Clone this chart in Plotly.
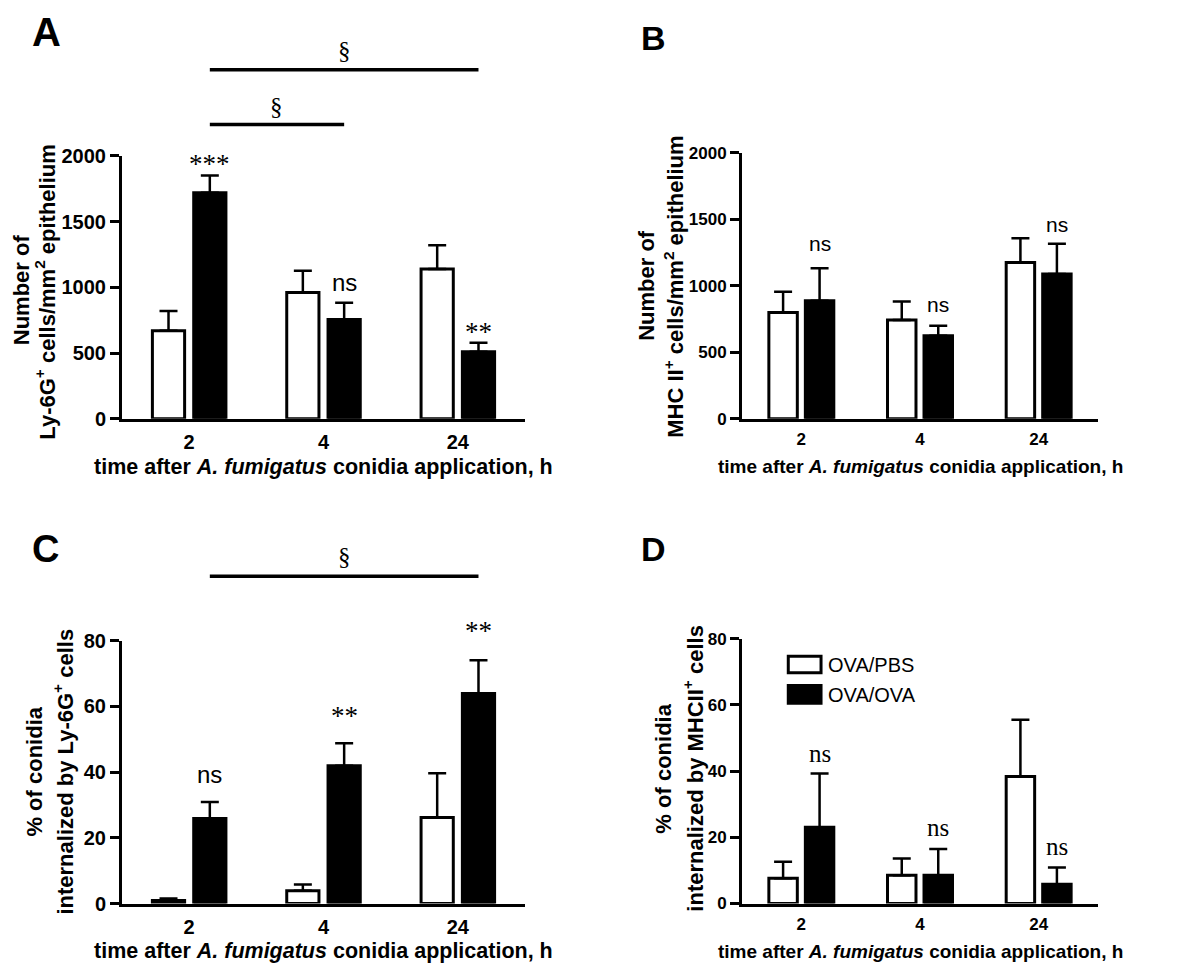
import plotly.graph_objects as go

# ---------------- data ----------------
times = ["2", "4", "24"]
groups = ["OVA/PBS", "OVA/OVA"]

a_pbs = [670, 960, 1140]
a_pbs_sem = [150, 165, 180]
a_ova = [1720, 755, 510]
a_ova_sem = [130, 127, 68]

b_pbs = [800, 742, 1176]
b_pbs_sem = [155, 140, 182]
b_ova = [888, 625, 1088]
b_ova_sem = [244, 74, 228]

c_pbs = [0.9, 3.9, 26.2]
c_pbs_sem = [0.6, 1.9, 13.4]
c_ova = [25.9, 41.9, 63.9]
c_ova_sem = [5.0, 6.9, 10.1]

d_pbs = [7.6, 8.5, 38.4]
d_pbs_sem = [5.0, 5.1, 17.1]
d_ova = [23.0, 8.5, 5.8]
d_ova_sem = [16.3, 8.0, 5.1]

# significance labels: (text, group index, y value) placed over OVA/OVA bars
a_marks = [("***", 0, 1985), ("ns", 1, 1019), ("**", 2, 706)]
b_marks = [("ns", 0, 1301), ("ns", 1, 846), ("ns", 2, 1449)]
c_marks = [("ns", 0, 38.7), ("**", 1, 58.9), ("**", 2, 84.8)]
d_marks = [("ns", 0, 45.2), ("ns", 1, 23.0), ("ns", 2, 17.1)]

# brackets: (from group, to group, line y, symbol y)
a_brackets = [(0, 2, 2654, 2803), (0, 1, 2238, 2379)]
c_brackets = [(0, 2, 99.6, 105.6)]

# ---------------- layout constants ----------------
W, H = 1200, 972
OX, OY = 8, 8          # page offset of the plot div (body margin)
BARGAP = 0.385
OFF = (1 - BARGAP) / 4  # offset of each bar's centre from group centre
FONT = "Liberation Sans, Arial, sans-serif"
SERIF = "Liberation Serif, Times New Roman, serif"


def px2x(px):
    return (px - OX) / W


def py2y(py):
    return 1 - (py - OY) / H


panels = {
    "A": dict(px=(122, 525), py=(148, 417), ymax=2000, step=500,
              tfs=20, xfs=21.5, rfs=22, nsfs=24,
              pbs=a_pbs, pbs_sem=a_pbs_sem, ova=a_ova, ova_sem=a_ova_sem,
              marks=a_marks, brackets=a_brackets, serif_ns=False,
              ytitle=["Number of",
                      "Ly-6G<sup>+</sup> cells/mm<sup>2</sup> epithelium"],
              ytx=(21.5, 45), yty=(285, 287), letter=(46, 21), lfs=40),
    "B": dict(px=(742, 1098), py=(145, 417), ymax=2000, step=500,
              tfs=17, xfs=19, rfs=22, nsfs=21,
              pbs=b_pbs, pbs_sem=b_pbs_sem, ova=b_ova, ova_sem=b_ova_sem,
              marks=b_marks, brackets=[], serif_ns=False,
              ytitle=["Number of",
                      "MHC II<sup>+</sup> cells/mm<sup>2</sup> epithelium"],
              ytx=(647, 674), yty=(281, 282), letter=(653, 27), lfs=34),
    "C": dict(px=(122, 525), py=(644, 913), ymax=80, step=20,
              tfs=20, xfs=21.5, rfs=22, nsfs=24,
              pbs=c_pbs, pbs_sem=c_pbs_sem, ova=c_ova, ova_sem=c_ova_sem,
              marks=c_marks, brackets=c_brackets, serif_ns=False,
              ytitle=["% of conidia",
                      "internalized by Ly-6G<sup>+</sup> cells"],
              ytx=(35, 63), yty=(778, 778), letter=(45, 550), lfs=38),
    "D": dict(px=(742, 1098), py=(642, 913), ymax=80, step=20,
              tfs=17, xfs=19, rfs=22, nsfs=25,
              pbs=d_pbs, pbs_sem=d_pbs_sem, ova=d_ova, ova_sem=d_ova_sem,
              marks=d_marks, brackets=[], serif_ns=True,
              ytitle=["% of conidia",
                      "internalized by MHCII<sup>+</sup> cells"],
              ytx=(664, 693), yty=(775, 775), letter=(653, 550), lfs=34),
}

fig = go.Figure()
shapes = []
annotations = []
layout_axes = {}


def xdom(pos):
    return (pos + 0.5) / 3.0


for i, (key, p) in enumerate(panels.items()):
    n = "" if i == 0 else str(i + 1)
    xa, ya = "x" + n, "y" + n
    xdomain = [px2x(p["px"][0]), px2x(p["px"][1])]
    ydomain = [py2y(p["py"][1]), py2y(p["py"][0])]
    ph = p["py"][1] - p["py"][0]

    fig.add_trace(go.Bar(
        x=times, y=p["pbs"], name=groups[0], xaxis=xa, yaxis=ya,
        marker=dict(color="white", line=dict(color="black", width=3)),
        error_y=dict(type="data", symmetric=False, array=p["pbs_sem"],
                     arrayminus=[0] * 3, color="black", thickness=2.5, width=9),
        showlegend=False))
    fig.add_trace(go.Bar(
        x=times, y=p["ova"], name=groups[1], xaxis=xa, yaxis=ya,
        marker=dict(color="black", line=dict(color="black", width=3)),
        error_y=dict(type="data", symmetric=False, array=p["ova_sem"],
                     arrayminus=[0] * 3, color="black", thickness=2.5, width=9),
        showlegend=False))

    layout_axes["xaxis" + n] = dict(
        domain=xdomain, anchor=ya, type="category", categoryorder="array",
        categoryarray=times, range=[-0.5, 2.5], showline=True, linewidth=3,
        linecolor="black", ticks="", showgrid=False, zeroline=False,
        ticklabelstandoff=3,
        tickfont=dict(family=FONT, size=p["tfs"], color="black", weight="bold"))
    layout_axes["yaxis" + n] = dict(
        domain=ydomain, anchor=xa, range=[0, p["ymax"]],
        tickvals=list(range(0, p["ymax"] + 1, p["step"])),
        showline=True, linewidth=3, linecolor="black", ticks="outside",
        ticklen=9, tickwidth=3, tickcolor="black", showgrid=False,
        zeroline=False,
        tickfont=dict(family=FONT, size=p["tfs"], color="black", weight="bold"))

    xd = xa + " domain"
    yd = ya + " domain"

    # x-axis title
    annotations.append(dict(
        text="time after <i>A. fumigatus</i> conidia application, h",
        xref=xd, yref=yd, x=0.5, y=-49 / ph, xanchor="center",
        yanchor="middle", showarrow=False,
        font=dict(family=FONT, size=p["xfs"], color="black", weight="bold")))
    # y-axis title, one annotation per line
    for line, tx, ty in zip(p["ytitle"], p["ytx"], p["yty"]):
        annotations.append(dict(
            text=line, textangle=-90, xref="paper", yref="paper",
            x=px2x(tx), y=py2y(ty), xanchor="center", yanchor="middle",
            showarrow=False,
            font=dict(family=FONT, size=p["rfs"], color="black",
                      weight="bold")))
    # panel letter
    annotations.append(dict(
        text="<b>%s</b>" % key, xref="paper", yref="paper",
        x=px2x(p["letter"][0]), y=py2y(p["letter"][1]),
        xanchor="center", yanchor="middle", showarrow=False,
        font=dict(family=FONT, size=p["lfs"], color="black")))

    # significance marks over OVA/OVA bars
    for txt, g, yv in p["marks"]:
        ydata = yv / p["ymax"]
        if txt.startswith("*"):
            f = dict(family=SERIF, size=27, color="black")
            ydata -= 6 / ph  # asterisks sit high in the glyph box
        elif p["serif_ns"]:
            f = dict(family=SERIF, size=p["nsfs"], color="black")
        else:
            f = dict(family=FONT, size=p["nsfs"], color="black")
            ydata += 2 / ph
        annotations.append(dict(
            text=txt, xref=xd, yref=yd, x=xdom(g + OFF), y=ydata,
            xanchor="center", yanchor="middle", showarrow=False, font=f))

    # brackets with section sign
    for g0, g1, ly, sy in p["brackets"]:
        shapes.append(dict(
            type="line", xref=xd, yref=yd,
            x0=xdom(g0 + OFF), x1=xdom(g1 + OFF),
            y0=ly / p["ymax"], y1=ly / p["ymax"],
            line=dict(color="black", width=3.5)))
        annotations.append(dict(
            text="§", xref=xd, yref=yd,
            x=(xdom(g0 + OFF) + xdom(g1 + OFF)) / 2, y=sy / p["ymax"],
            xanchor="center", yanchor="middle", showarrow=False,
            font=dict(family=SERIF, size=25, color="black")))

# custom legend inside panel D
leg_items = [(groups[0], "white", 0.934, 0.871, 0.902),
             (groups[1], "black", 0.823, 0.756, 0.788)]
for name, col, yt, yb, ytxt in leg_items:
    shapes.append(dict(type="rect", xref="x4 domain", yref="y4 domain",
                       x0=0.13, x1=0.222, y0=yb, y1=yt, fillcolor=col,
                       line=dict(color="black", width=3)))
    annotations.append(dict(
        text=name, xref="x4 domain", yref="y4 domain", x=0.236, y=ytxt,
        xanchor="left", yanchor="middle", showarrow=False,
        font=dict(family=FONT, size=20, color="black")))

fig.update_layout(
    width=W, height=H, margin=dict(l=0, r=0, t=0, b=0),
    paper_bgcolor="white", plot_bgcolor="white",
    barmode="group", bargap=BARGAP, bargroupgap=0.22,
    shapes=shapes, annotations=annotations, showlegend=False,
    **layout_axes)

fig.write_html("out.html")
